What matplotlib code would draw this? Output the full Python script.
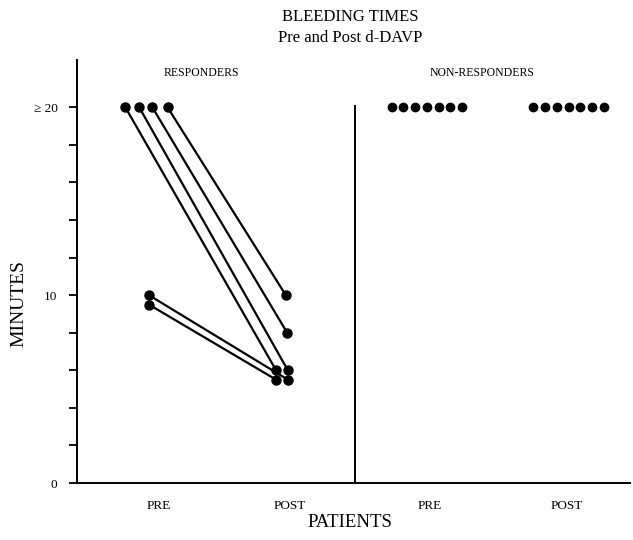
"""
Bleeding times, pre and post d-DAVP
responders (lines pre -> post) and non-responders (dots only)
"""

import matplotlib
matplotlib.use("Agg")
import matplotlib.pyplot as plt

plt.rcParams["font.family"] = ["Liberation Serif", "DejaVu Serif"]

# ---- data ----
group_labels = ["RESPONDERS", "NON-RESPONDERS"]
tick_labels = ["PRE", "POST", "PRE", "POST"]

# responders, one entry per patient (minutes, 20 = ">= 20")
resp_pre = [20, 20, 20, 20, 10, 9.5]
resp_post = [6, 6, 8, 10, 5.5, 5.5]

# non-responders: all at >= 20 before and after
nonresp_pre = [20, 20, 20, 20, 20, 20, 20]
nonresp_post = [20, 20, 20, 20, 20, 20, 20]

y_ticks = [0, 2, 4, 6, 8, 10, 12, 14, 16, 18, 20]
y_ticklabels = ["0", "", "", "", "", "10", "", "", "", "", "≥ 20"]

# ---- layout ----
tick_pos = [0.99, 1.94, 2.95, 3.94]
# horizontal spread of the dots so they don't overlap
resp_pre_dx = [-0.24, -0.14, -0.045, 0.065, -0.07, -0.07]
resp_post_dx = [-0.10, -0.015, -0.02, -0.03, -0.015, -0.10]
nr_step = 0.085
divider_x = 2.41

fig = plt.figure(figsize=(6.33, 5.40), dpi=100)
ax = fig.add_axes([0.1215, 0.1055, 0.874, 0.783])

# responders
for pre, post, dpre, dpost in zip(resp_pre, resp_post, resp_pre_dx, resp_post_dx):
    ax.plot([tick_pos[0] + dpre, tick_pos[1] + dpost], [pre, post],
            color="black", linewidth=1.6, marker="o", markersize=6.5,
            solid_capstyle="round")

# non-responders
n = len(nonresp_pre)
off = [(i - (n - 1) / 2) * nr_step for i in range(n)]
ax.plot([tick_pos[2] - 0.02 + o for o in off], nonresp_pre, "o",
        color="black", markersize=6)
ax.plot([tick_pos[3] + 0.015 + o for o in off], nonresp_post, "o",
        color="black", markersize=6)

# divider between groups
ax.vlines(divider_x, 0, 20.1, color="black", linewidth=1.4)

ax.set_xlim(0.4, 4.4)
ax.set_ylim(0, 22.5)
ax.set_yticks(y_ticks)
ax.set_yticklabels(y_ticklabels, fontsize=9.5)
ax.set_xticks(tick_pos)
ax.set_xticklabels(tick_labels, fontsize=9.5)
ax.tick_params(axis="y", direction="out", length=6, width=1.3, pad=8)
ax.tick_params(axis="x", length=0, pad=12)

for s in ["top", "right"]:
    ax.spines[s].set_visible(False)
for s in ["left", "bottom"]:
    ax.spines[s].set_linewidth(1.4)

ax.set_ylabel("MINUTES", fontsize=14)
ax.yaxis.set_label_coords(-0.089, 0.425)
ax.set_xlabel("PATIENTS", fontsize=13.5)
ax.xaxis.set_label_coords(0.493, -0.073)

ax.text(1.3, 21.8, group_labels[0], fontsize=8.5, ha="center", va="center")
ax.text(3.33, 21.8, group_labels[1], fontsize=8.5, ha="center", va="center")

fig.text(0.553, 0.968, "BLEEDING TIMES", fontsize=12, ha="center", va="center")
fig.text(0.553, 0.929, "Pre and Post d-DAVP", fontsize=12, ha="center", va="center")

fig.savefig("out.png", dpi=100)
